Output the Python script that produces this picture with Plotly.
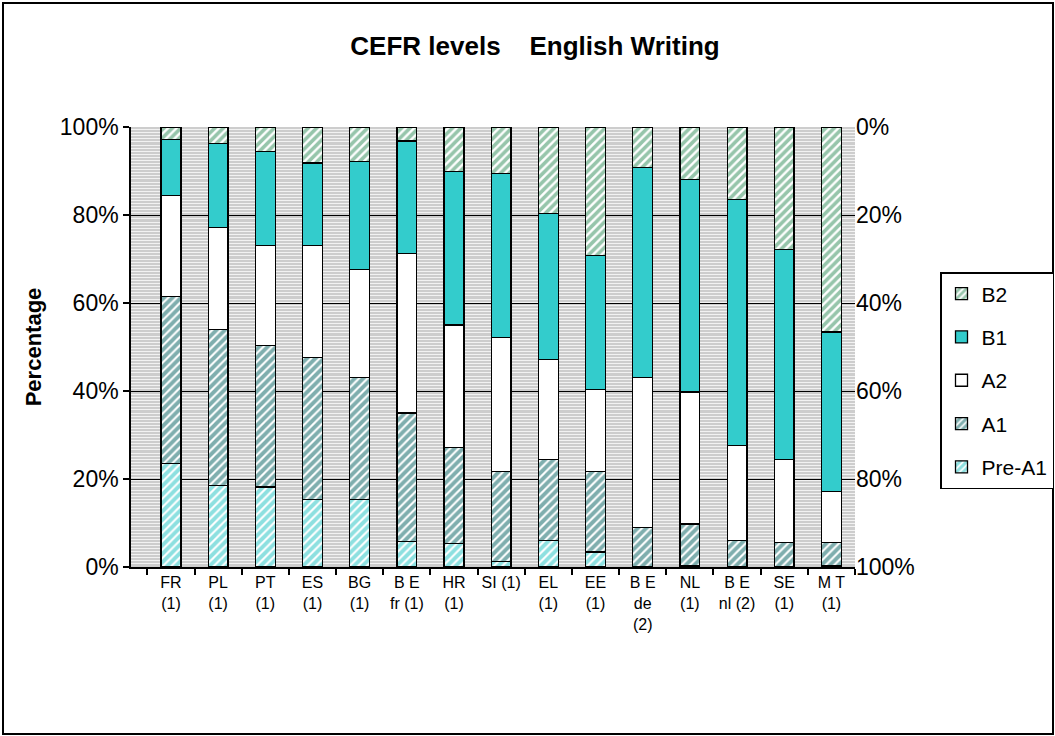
import plotly.graph_objects as go

categories = ["FR<br>(1)", "PL<br>(1)", "PT<br>(1)", "ES<br>(1)", "BG<br>(1)",
              "B E<br>fr (1)", "HR<br>(1)", "SI (1)", "EL<br>(1)", "EE<br>(1)",
              "B E<br>de<br>(2)", "NL<br>(1)", "B E<br>nl (2)", "SE<br>(1)", "M T<br>(1)"]

pre_a1 = [23.5, 18.5, 18.2, 15.3, 15.3, 5.8, 5.3, 1.2, 6.1, 3.4, 0.0, 0.4, 0.0, 0.0, 0.4]
a1     = [37.9, 35.5, 32.2, 32.3, 27.8, 29.2, 21.9, 20.5, 18.3, 18.3, 9.0, 9.4, 6.1, 5.6, 5.2]
a2     = [23.0, 23.1, 22.7, 25.5, 24.5, 36.3, 27.8, 30.5, 22.8, 18.6, 34.1, 30.0, 21.5, 18.8, 11.5]
b1     = [12.8, 19.2, 21.4, 18.7, 24.6, 25.5, 34.9, 37.3, 33.1, 30.5, 47.7, 48.3, 55.9, 47.8, 36.3]
b2     = [2.8, 3.7, 5.5, 8.2, 7.8, 3.2, 10.1, 10.5, 19.7, 29.2, 9.2, 11.9, 16.5, 27.8, 46.6]

left_ticks = [0, 20, 40, 60, 80, 100]
right_ticks = [0, 20, 40, 60, 80, 100]

series = [
    ("Pre-A1", pre_a1, 5, dict(color="white", pattern=dict(shape="/", fgcolor="#1cc2c2", bgcolor="white", size=6, solidity=0.65))),
    ("A1", a1, 4, dict(color="white", pattern=dict(shape="/", fgcolor="#005e5e", bgcolor="white", size=6, solidity=0.65))),
    ("A2", a2, 3, dict(color="white")),
    ("B1", b1, 2, dict(color="#33cccc")),
    ("B2", b2, 1, dict(color="white", pattern=dict(shape="/", fgcolor="#2e8b57", bgcolor="white", size=6, solidity=0.6))),
]

fig = go.Figure()
for name, vals, rank, mk in series:
    mk = dict(mk)
    mk["line"] = dict(color="black", width=1.3)
    fig.add_trace(go.Bar(x=categories, y=vals, name=name, marker=mk, width=0.42,
                         legendgroup=name, legendrank=rank))

# secondary (reversed) axis
fig.add_trace(go.Scatter(x=[categories[0]], y=[0], yaxis="y2", mode="markers",
                         marker=dict(opacity=0), showlegend=False, hoverinfo="skip"))

W, H = 1055, 736
ml, mr, mt, mb = 131, 200, 127, 169
pw, ph = W - ml - mr, H - mt - mb

fig.update_layout(
    width=W, height=H, autosize=False,
    barmode="stack",
    paper_bgcolor="white",
    plot_bgcolor="#cdcdcd",
    margin=dict(l=ml, r=mr, t=mt, b=mb, autoexpand=False),
    font=dict(family="Liberation Sans, Arial, sans-serif", color="black"),
    title=dict(text="CEFR levels\u00a0\u00a0\u00a0\u00a0English Writing", x=(535 - ml) / pw, xanchor="center",
               xref="paper", y=1 - 46 / H, yanchor="middle",
               font=dict(size=26, family="Liberation Sans, Arial, sans-serif", color="black", weight="bold")),
    xaxis=dict(tickson="boundaries", ticks="outside", ticklen=6, tickcolor="black", tickwidth=1.5,
               showline=True, linecolor="black", linewidth=1.5, showgrid=False,
               tickfont=dict(size=16), tickangle=0),
    yaxis=dict(range=[0, 100], tickvals=left_ticks, ticktext=[f"{v}%" for v in left_ticks],
               ticks="outside", ticklen=6, tickcolor="black", tickwidth=1.5,
               showline=True, linecolor="black", linewidth=1.5,
               showgrid=True, gridcolor="black", gridwidth=1.3,
               minor=dict(dtick=0.7, showgrid=True, gridcolor="#f2f2f2", gridwidth=1),
               tickfont=dict(size=23), zeroline=False,
               title=dict(text="<b>Percentage</b>", font=dict(size=22), standoff=12)),
    yaxis2=dict(overlaying="y", side="right", range=[100, 0], tickvals=right_ticks,
                ticktext=[f"{v}%" for v in right_ticks], showgrid=False, zeroline=False,
                ticks="", tickfont=dict(size=23), showline=False),
    legend=dict(x=(940 - ml) / pw, y=(H - mb - 272) / ph, xanchor="left", yanchor="top",
                traceorder="grouped", tracegroupgap=13,
                bordercolor="black", borderwidth=1.5, bgcolor="white",
                font=dict(size=21)),
)

fig.add_shape(type="rect", xref="paper", yref="paper",
              x0=-(ml - 3) / pw, x1=1 + (mr - 2) / pw,
              y0=-(mb - 2) / ph, y1=1 + (mt - 3) / ph,
              line=dict(color="black", width=2), layer="above")

fig.write_html("out.html",
               config={"responsive": False, "displayModeBar": False},
               post_script="document.body.style.margin='0';document.body.style.overflow='hidden';")
